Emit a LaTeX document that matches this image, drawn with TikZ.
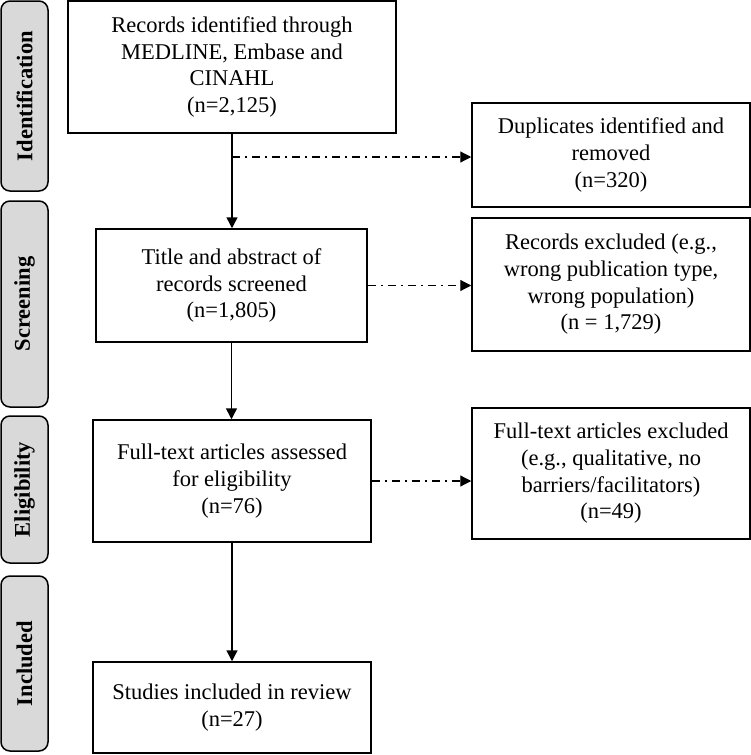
\documentclass[tikz,border=0pt]{standalone}
\usepackage{fontspec}
\setmainfont{Liberation Serif}
\usetikzlibrary{arrows.meta}

\begin{document}
\begin{tikzpicture}[x=1pt,y=-1pt,>={Triangle[length=11pt,width=11pt]},
  font=\fontsize{22.5}{26.7}\selectfont,
  box/.style={draw,line width=1.5pt,align=center,inner sep=0pt},
  phase/.style={draw,line width=1.5pt,fill=gray!30,rounded corners=9pt,
    minimum height=47pt,rotate=90,font=\fontsize{22.5}{26.7}\selectfont\bfseries},
  dashdot/.style={line width=1.2pt,dash pattern=on 8pt off 5pt on 2pt off 5pt}]

  \useasboundingbox (0,0) rectangle (751,755);

  % Fasi
  \node[phase,minimum width=190pt] (ident) at (24.5,96) {Identification};
  \node[phase,minimum width=206pt] (scr) at (24.5,304) {Screening};
  \node[phase,minimum width=147pt] (elig) at (24.5,489.5) {Eligibility};
  \node[phase,minimum width=175pt] (inc) at (24.5,663.5) {Included};

  % Riquadri principali
  \node[box,minimum width=328pt,minimum height=132pt] (recs) at (232,67)
    {Records identified through\\MEDLINE, Embase and\\CINAHL\\(n=2,125)};
  \node[box,minimum width=271pt,minimum height=113pt] (screen) at (231.5,285.5)
    {Title and abstract of\\records screened\\(n=1,805)};
  \node[box,minimum width=278pt,minimum height=122pt] (full) at (232,481)
    {Full-text articles assessed\\for eligibility\\(n=76)};
  \node[box,minimum width=278pt,minimum height=91pt] (incl) at (232,707.5)
    {Studies included in review\\(n=27)};

  % Esclusioni
  \node[box,minimum width=278pt,minimum height=104pt] (dupl) at (611,155)
    {Duplicates identified and\\removed\\(n=320)};
  \node[box,minimum width=278pt,minimum height=133pt] (excl) at (611,284.5)
    {Records excluded (e.g.,\\wrong publication type,\\wrong population)\\(n = 1,729)};
  \node[box,minimum width=278pt,minimum height=131pt] (ftex) at (611,473.5)
    {Full-text articles excluded\\(e.g., qualitative, no\\barriers/facilitators)\\(n=49)};

  \coordinate (split) at (recs.south |- 0,157);

  % Transizioni
  \path[->,line width=1.5pt]
    (recs.south) edge (recs.south |- screen.north)
    (screen.south) edge (screen.south |- full.north)
    (full) edge (incl);

  \path[->,dashdot]
    (split) edge (split -| dupl.west)
    (screen.east) edge (screen.east -| excl.west)
    (full.east) edge (full.east -| ftex.west);

\end{tikzpicture}
\end{document}
